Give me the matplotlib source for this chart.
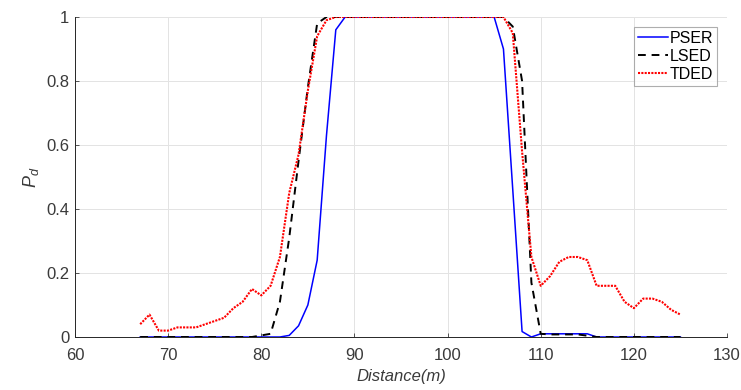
import matplotlib
matplotlib.use("Agg")
from matplotlib import pyplot as plt
import numpy as np

# detection probability vs distance for the three detectors
distance = list(range(67, 126))

pser = [0, 0, 0, 0, 0, 0, 0, 0, 0, 0, 0, 0, 0, 0, 0, 0,          # 67-82
        0.005, 0.035, 0.1, 0.24, 0.63, 0.96,                     # 83-88
        1, 1, 1, 1, 1, 1, 1, 1, 1, 1, 1, 1, 1, 1, 1, 1, 1,        # 89-105
        0.9, 0.46, 0.017, 0,                                     # 106-109
        0.01, 0.01, 0.01, 0.01, 0.01, 0.01,                      # 110-115
        0, 0, 0, 0, 0, 0, 0, 0, 0, 0]                            # 116-125

lsed = [0, 0, 0, 0, 0, 0, 0, 0, 0, 0, 0, 0, 0,                   # 67-79
        0.005, 0.01, 0.11, 0.31, 0.55, 0.78, 0.98,               # 80-86
        1, 1, 1, 1, 1, 1, 1, 1, 1, 1, 1, 1, 1, 1, 1, 1, 1, 1, 1, 1,  # 87-106
        0.97, 0.8, 0.17,                                         # 107-109
        0.01, 0.008, 0.008, 0.008, 0.008, 0.004,                 # 110-115
        0, 0, 0, 0, 0, 0, 0, 0, 0, 0]                            # 116-125

tded = [0.04, 0.07, 0.02, 0.02, 0.03, 0.03, 0.03, 0.04, 0.05, 0.06,  # 67-76
        0.09, 0.11, 0.15, 0.13, 0.16, 0.25, 0.45, 0.57, 0.77, 0.94,  # 77-86
        0.99,                                                        # 87
        1, 1, 1, 1, 1, 1, 1, 1, 1, 1, 1, 1, 1, 1, 1, 1, 1, 1, 1,     # 88-106
        0.95, 0.58, 0.25, 0.16, 0.19, 0.235, 0.25, 0.25, 0.24,      # 107-115
        0.16, 0.16, 0.16, 0.11, 0.09, 0.12, 0.12, 0.11, 0.085, 0.07] # 116-125

xticks = [60, 70, 80, 90, 100, 110, 120, 130]
yticks = [0, 0.2, 0.4, 0.6, 0.8, 1]
ytick_labels = ["0", "0.2", "0.4", "0.6", "0.8", "1"]

plt.rcParams['font.family'] = ['Liberation Sans', 'DejaVu Sans']
plt.rcParams['mathtext.fontset'] = 'custom'
plt.rcParams['mathtext.it'] = 'Liberation Sans:italic'
plt.rcParams['mathtext.rm'] = 'Liberation Sans'

text_color = '#3a3a3a'

fig = plt.figure(figsize=(7.41, 3.9), dpi=100)
ax = fig.add_axes([75 / 741, 1 - 337 / 390, (727 - 75) / 741, (337 - 17) / 390])

ax.plot(distance, pser, color='#0000ff', linestyle='-', linewidth=1.1, label="PSER")
ax.plot(distance, lsed, color='black', linestyle=(0, (4, 3)), linewidth=1.4, label="LSED")
ax.plot(distance, tded, color='#ff0000', linestyle=(0, (1, 0.6)), linewidth=1.5, label="TDED")

ax.set_xlim(60, 130)
ax.set_ylim(0, 1)
ax.set_xticks(xticks)
ax.set_yticks(yticks)
ax.set_yticklabels(ytick_labels)
ax.tick_params(direction='in', length=3, width=0.6, colors=text_color, labelsize=12)
ax.tick_params(axis='x', pad=8)
ax.tick_params(axis='y', pad=4)

ax.grid(True, color='#e3e3e3', linewidth=0.7)
ax.set_axisbelow(True)
for side in ['top', 'right']:
    ax.spines[side].set_visible(False)
for side in ['left', 'bottom']:
    ax.spines[side].set_color('#262626')
    ax.spines[side].set_linewidth(0.7)

ax.set_xlabel("Distance(m)", fontsize=12, style='italic', color=text_color, labelpad=4)
ax.set_ylabel("$P_d$", fontsize=13, color=text_color, labelpad=4)

leg = ax.legend(loc='upper right', fontsize=11.5, frameon=True, fancybox=False,
                handlelength=1.9, handletextpad=0.1, borderpad=0.25,
                labelspacing=0.2, borderaxespad=0.6)
leg.get_frame().set_edgecolor('#9a9a9a')
leg.get_frame().set_linewidth(0.8)

fig.savefig("out.png", dpi=100)
